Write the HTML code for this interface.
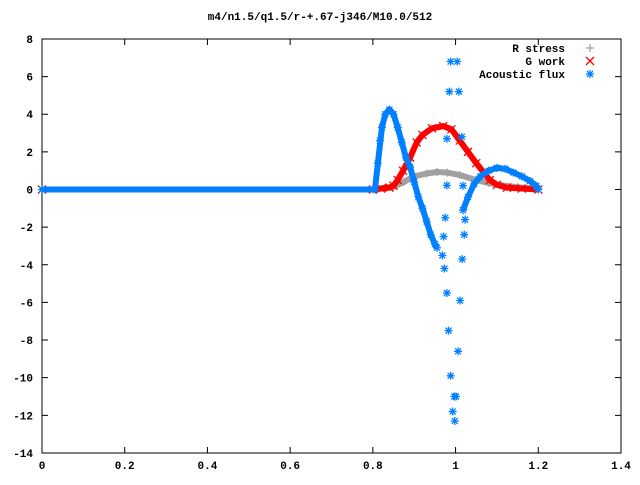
<!DOCTYPE html>
<html><head><meta charset="utf-8"><style>
body{margin:0;background:#fff}
svg text{font-family:"Liberation Mono","DejaVu Sans Mono",monospace;font-size:11px;font-weight:bold;fill:#000}
</style></head><body>
<svg id="chart" width="640" height="480" viewBox="0 0 640 480" xmlns="http://www.w3.org/2000/svg">
<text x="320" y="20" text-anchor="middle">m4/n1.5/q1.5/r-+.67-j346/M10.0/512</text>
<rect x="42" y="39" width="579" height="414" fill="none" stroke="#000" stroke-width="1"/>
<g id="axes"></g><g id="series"></g>
<g>
<text x="565" y="52" text-anchor="end">R stress</text>
<text x="565" y="65" text-anchor="end">G work</text>
<text x="565" y="78" text-anchor="end">Acoustic flux</text>
</g>
</svg>
<script>
const xTicks=[0,0.2,0.4,0.6,0.8,1,1.2,1.4];
const xTickLabels=["0","0.2","0.4","0.6","0.8","1","1.2","1.4"];
const yTicks=[8,6,4,2,0,-2,-4,-6,-8,-10,-12,-14];
const grayX=[0,0.8,0.85,0.875,0.897,0.93,0.955,0.98,1.01,1.05,1.08,1.107,1.15,1.2];
const grayY=[0,0,0.15,0.4,0.68,0.85,0.93,0.9,0.77,0.5,0.35,0.24,0.12,0.05];
const redX=[0,0.8,0.82,0.84,0.85,0.86,0.873,0.89,0.906,0.92,0.943,0.97,0.99,1.01,1.03,1.05,1.07,1.083,1.1,1.124,1.16,1.2];
const redY=[0,0,0.05,0.1,0.2,0.5,1.0,1.7,2.5,2.9,3.25,3.37,3.2,2.6,2.0,1.4,0.85,0.5,0.25,0.1,0.05,0];
const blueX1=[0,0.805,0.822,0.83,0.84,0.85,0.86,0.87,0.88,0.89,0.9,0.91,0.92,0.93,0.94,0.95,0.955];
const blueY1=[0,0,3.3,4.0,4.25,4.0,3.3,2.5,1.7,1.2,0.4,-0.4,-1.0,-1.7,-2.4,-2.9,-3.1];
const blueX2=[1.018,1.03,1.045,1.06,1.08,1.1,1.12,1.14,1.16,1.18,1.195,1.2];
const blueY2=[-1.1,-0.4,0.3,0.7,1.0,1.15,1.1,0.9,0.7,0.45,0.2,0];
const blueSparseX=[0.812,0.817,0.979,0.975,0.971,0.968,0.973,0.979,0.983,0.988,0.993,0.998,1.018,1.023,1.021,1.016,1.011,1.006,1.001,0.997,0.988,1.004,0.985,1.008,0.979,1.015];
const blueSparseY=[1.4,2.6,0.22,-1.5,-2.5,-3.5,-4.2,-5.5,-7.5,-9.9,-11.8,-12.3,0.2,-1.6,-2.4,-3.7,-5.9,-8.6,-11.0,-11.0,6.8,6.8,5.2,5.2,2.7,2.8];
const X=v=>42+v*579/1.4, Y=v=>189.5-v*414/22;
const NS="http://www.w3.org/2000/svg";
const ax=document.getElementById('axes'), sg=document.getElementById('series');
function mk(t,a,p){const e=document.createElementNS(NS,t);for(const k in a)e.setAttribute(k,a[k]);p.appendChild(e);return e;}
xTicks.forEach((v,i)=>{
 const l=mk('path',{d:`M${X(v)},453v-6M${X(v)},39v6`,stroke:'#000'},ax);
 
 
 const t=mk('text',{x:X(v),y:469,'text-anchor':'middle'},ax);t.textContent=xTickLabels[i];
 
 
});
yTicks.forEach(v=>{
 const l=mk('path',{d:`M42,${Y(v)}h6M621,${Y(v)}h-6`,stroke:'#000'},ax);
 
 
 const t=mk('text',{x:33,y:Y(v)+4,'text-anchor':'end'},ax);t.textContent=String(v);
 
 
});
function marker(type,x,y,c,g){
 let d;
 if(type==='+')d=`M${x-4},${y}h8M${x},${y-4}v8`;
 else if(type==='x')d=`M${x-4},${y-4}l8,8M${x-4},${y+4}l8,-8`;
 else d=`M${x-4},${y}h8M${x},${y-4}v8M${x-3},${y-3}l6,6M${x-3},${y+3}l6,-6`;
 mk('path',{d:d,stroke:c,'stroke-width':1.3,fill:'none'},g);
}
function series(xs,ys,c,type,name,line){
 const g=mk('g',{},sg);
 
 
 if(line){mk('polyline',{points:xs.map((v,i)=>X(v)+','+Y(ys[i])).join(' '),fill:'none',stroke:c,'stroke-width':6,'stroke-linejoin':'round'},g);}
 xs.forEach((v,i)=>marker(type,X(v),Y(ys[i]),c,g));
}
series(grayX,grayY,'#a0a0a0','+','r-stress-series',true);
series(redX,redY,'#ff0000','x','g-work-series',true);
series(blueX1,blueY1,'#0080ff','*','acoustic-flux-series-left',true);
series(blueX2,blueY2,'#0080ff','*','acoustic-flux-series-right',true);
series(blueSparseX,blueSparseY,'#0080ff','*','acoustic-flux-sparse-points',false);
const lg=mk('g',{},sg);


marker('+',590,48,'#a0a0a0',lg);marker('x',590,61,'#ff0000',lg);marker('*',590,74,'#0080ff',lg);
</script>
</body></html>
